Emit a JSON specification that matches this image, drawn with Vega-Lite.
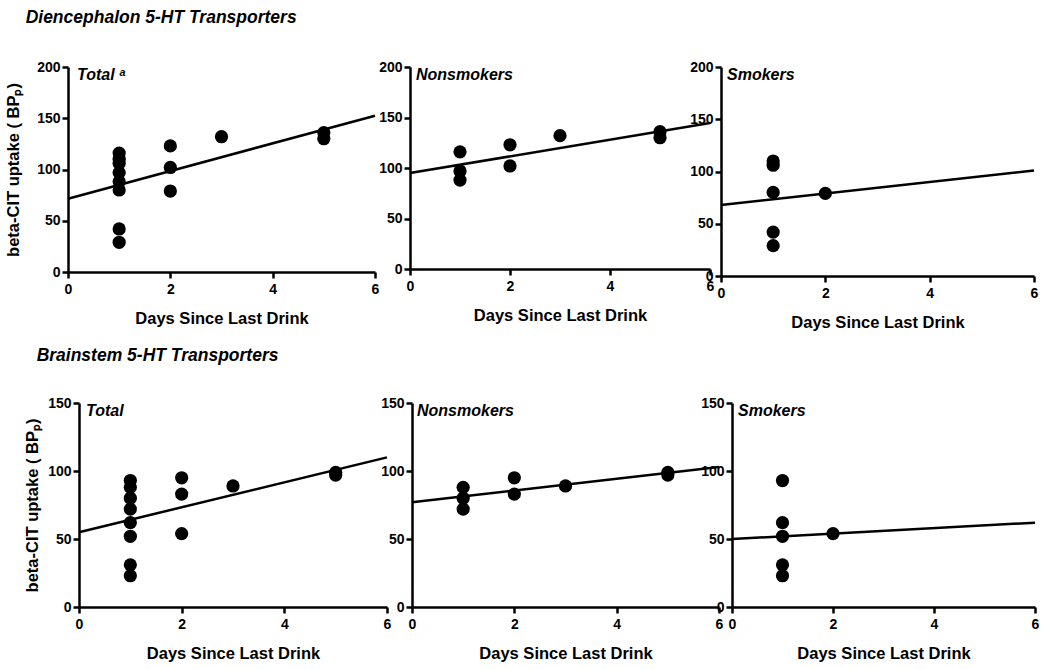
{
  "$schema": "https://vega.github.io/schema/vega-lite/v6.json",
  "background": "white",
  "padding": {"left": 5, "top": 8, "right": 5, "bottom": 5},
  "bounds": "flush",
  "spacing": 336,
  "datasets": {
    "points": [
      {"region": "Diencephalon", "smoking": "Nonsmokers", "days": 1, "uptake": 116},
      {"region": "Diencephalon", "smoking": "Nonsmokers", "days": 1, "uptake": 97},
      {"region": "Diencephalon", "smoking": "Nonsmokers", "days": 1, "uptake": 88},
      {"region": "Diencephalon", "smoking": "Nonsmokers", "days": 2, "uptake": 123},
      {"region": "Diencephalon", "smoking": "Nonsmokers", "days": 2, "uptake": 102},
      {"region": "Diencephalon", "smoking": "Nonsmokers", "days": 3, "uptake": 132},
      {"region": "Diencephalon", "smoking": "Nonsmokers", "days": 5, "uptake": 136},
      {"region": "Diencephalon", "smoking": "Nonsmokers", "days": 5, "uptake": 130},
      {"region": "Diencephalon", "smoking": "Smokers", "days": 1, "uptake": 110},
      {"region": "Diencephalon", "smoking": "Smokers", "days": 1, "uptake": 106},
      {"region": "Diencephalon", "smoking": "Smokers", "days": 1, "uptake": 80},
      {"region": "Diencephalon", "smoking": "Smokers", "days": 1, "uptake": 42},
      {"region": "Diencephalon", "smoking": "Smokers", "days": 1, "uptake": 29},
      {"region": "Diencephalon", "smoking": "Smokers", "days": 2, "uptake": 79},
      {"region": "Brainstem", "smoking": "Nonsmokers", "days": 1, "uptake": 88},
      {"region": "Brainstem", "smoking": "Nonsmokers", "days": 1, "uptake": 80},
      {"region": "Brainstem", "smoking": "Nonsmokers", "days": 1, "uptake": 72},
      {"region": "Brainstem", "smoking": "Nonsmokers", "days": 2, "uptake": 95},
      {"region": "Brainstem", "smoking": "Nonsmokers", "days": 2, "uptake": 83},
      {"region": "Brainstem", "smoking": "Nonsmokers", "days": 3, "uptake": 89},
      {"region": "Brainstem", "smoking": "Nonsmokers", "days": 5, "uptake": 99},
      {"region": "Brainstem", "smoking": "Nonsmokers", "days": 5, "uptake": 97},
      {"region": "Brainstem", "smoking": "Smokers", "days": 1, "uptake": 93},
      {"region": "Brainstem", "smoking": "Smokers", "days": 1, "uptake": 62},
      {"region": "Brainstem", "smoking": "Smokers", "days": 1, "uptake": 52},
      {"region": "Brainstem", "smoking": "Smokers", "days": 1, "uptake": 31},
      {"region": "Brainstem", "smoking": "Smokers", "days": 1, "uptake": 23},
      {"region": "Brainstem", "smoking": "Smokers", "days": 2, "uptake": 54}
    ],
    "fits": [
      {"region": "Diencephalon", "panel": "Total", "days": 0, "uptake": 71.5},
      {"region": "Diencephalon", "panel": "Total", "days": 6, "uptake": 152.5},
      {"region": "Diencephalon", "panel": "Nonsmokers", "days": 0, "uptake": 95},
      {"region": "Diencephalon", "panel": "Nonsmokers", "days": 6, "uptake": 144.5},
      {"region": "Diencephalon", "panel": "Smokers", "days": 0, "uptake": 68},
      {"region": "Diencephalon", "panel": "Smokers", "days": 6, "uptake": 101},
      {"region": "Brainstem", "panel": "Total", "days": 0, "uptake": 55},
      {"region": "Brainstem", "panel": "Total", "days": 6, "uptake": 110},
      {"region": "Brainstem", "panel": "Nonsmokers", "days": 0, "uptake": 77},
      {"region": "Brainstem", "panel": "Nonsmokers", "days": 6, "uptake": 103},
      {"region": "Brainstem", "panel": "Smokers", "days": 0, "uptake": 50},
      {"region": "Brainstem", "panel": "Smokers", "days": 6, "uptake": 62}
    ]
  },
  "config": {
    "view": {"stroke": null},
    "font": "Liberation Sans",
    "axis": {
      "grid": false,
      "domainColor": "black", "domainWidth": 2.5,
      "tickColor": "black", "tickWidth": 2.5, "tickSize": 6,
      "labelFont": "Liberation Sans", "labelFontWeight": "bold", "labelFontSize": 14, "labelColor": "black",
      "titleFont": "Liberation Sans", "titleFontWeight": "bold", "titleFontSize": 16.5, "titleColor": "black"
    },
    "axisX": {"labelPadding": 4, "titlePadding": 14, "labelFlush": false},
    "axisY": {"labelPadding": 2},
    "circle": {"size": 175, "color": "black", "opacity": 1},
    "title": {"font": "Liberation Sans", "fontWeight": "bold", "fontStyle": "italic", "color": "black", "anchor": "start"}
  },
  "vconcat": [
    {
      "title": {"text": "Diencephalon 5-HT Transporters", "fontSize": 17.5, "offset": 34, "dx": 20},
      "bounds": "flush",
      "spacing": 35,
      "hconcat": [
        {
          "width": 307, "height": 205,
          "title": {"text": "Total ᵃ", "fontSize": 16, "frame": "group", "offset": -23, "dx": 9},
          "layer": [
            {"data": {"name": "points"}, "transform": [{"filter": "datum.region === 'Diencephalon'"}],
             "mark": {"type": "circle"},
             "encoding": {
               "x": {"field": "days", "type": "quantitative", "scale": {"domain": [0, 6], "nice": false}, "axis": {"values": [0, 2, 4, 6], "title": "Days Since Last Drink"}},
               "y": {"field": "uptake", "type": "quantitative", "scale": {"domain": [0, 200], "nice": false}, "axis": {"values": [0, 50, 100, 150, 200], "title": "beta-CIT uptake ( BPₚ)", "titlePadding": 15}}
             }},
            {"data": {"name": "fits"}, "transform": [{"filter": "datum.region === 'Diencephalon' && datum.panel === 'Total'"}],
             "mark": {"type": "line", "color": "black", "strokeWidth": 2.5},
             "encoding": {"x": {"field": "days", "type": "quantitative"}, "y": {"field": "uptake", "type": "quantitative"}}}
          ]
        },
        {
          "bounds": "flush",
          "spacing": 11,
          "hconcat": [
            {
              "width": 300, "height": 202,
              "title": {"text": "Nonsmokers", "fontSize": 16, "frame": "group", "offset": -23, "dx": 6},
              "layer": [
                {"data": {"name": "points"}, "transform": [{"filter": "datum.region === 'Diencephalon' && datum.smoking === 'Nonsmokers'"}],
                 "mark": {"type": "circle"},
                 "encoding": {
                   "x": {"field": "days", "type": "quantitative", "scale": {"domain": [0, 6], "nice": false}, "axis": {"values": [0, 2, 4, 6], "title": "Days Since Last Drink"}},
                   "y": {"field": "uptake", "type": "quantitative", "scale": {"domain": [0, 200], "nice": false}, "axis": {"values": [0, 50, 100, 150, 200], "title": null}}
                 }},
                {"data": {"name": "fits"}, "transform": [{"filter": "datum.region === 'Diencephalon' && datum.panel === 'Nonsmokers'"}],
                 "mark": {"type": "line", "color": "black", "strokeWidth": 2.5},
                 "encoding": {"x": {"field": "days", "type": "quantitative"}, "y": {"field": "uptake", "type": "quantitative"}}}
              ]
            },
            {
              "width": 313, "height": 209,
              "title": {"text": "Smokers", "fontSize": 16, "frame": "group", "offset": -23, "dx": 6},
              "layer": [
                {"data": {"name": "points"}, "transform": [{"filter": "datum.region === 'Diencephalon' && datum.smoking === 'Smokers'"}],
                 "mark": {"type": "circle"},
                 "encoding": {
                   "x": {"field": "days", "type": "quantitative", "scale": {"domain": [0, 6], "nice": false}, "axis": {"values": [0, 2, 4, 6], "title": "Days Since Last Drink"}},
                   "y": {"field": "uptake", "type": "quantitative", "scale": {"domain": [0, 200], "nice": false}, "axis": {"values": [0, 50, 100, 150, 200], "title": null}}
                 }},
                {"data": {"name": "fits"}, "transform": [{"filter": "datum.region === 'Diencephalon' && datum.panel === 'Smokers'"}],
                 "mark": {"type": "line", "color": "black", "strokeWidth": 2.5},
                 "encoding": {"x": {"field": "days", "type": "quantitative"}, "y": {"field": "uptake", "type": "quantitative"}}}
              ]
            }
          ]
        }
      ]
    },
    {
      "title": {"text": "Brainstem 5-HT Transporters", "fontSize": 17.5, "offset": 32, "dx": 12},
      "bounds": "flush",
      "spacing": 10,
      "hconcat": [
        {"width": 1, "height": 204, "data": {"values": [{}]}, "mark": {"type": "point", "opacity": 0, "size": 1}, "encoding": {}},
        {
          "bounds": "flush",
          "spacing": 25,
          "hconcat": [
            {
              "width": 308, "height": 204,
              "title": {"text": "Total", "fontSize": 16, "frame": "group", "offset": -23, "dx": 7},
              "layer": [
                {"data": {"name": "points"}, "transform": [{"filter": "datum.region === 'Brainstem'"}],
                 "mark": {"type": "circle"},
                 "encoding": {
                   "x": {"field": "days", "type": "quantitative", "scale": {"domain": [0, 6], "nice": false}, "axis": {"values": [0, 2, 4, 6], "title": "Days Since Last Drink"}},
                   "y": {"field": "uptake", "type": "quantitative", "scale": {"domain": [0, 150], "nice": false}, "axis": {"values": [0, 50, 100, 150], "title": "beta-CIT uptake ( BPₚ)", "titlePadding": 7}}
                 }},
                {"data": {"name": "fits"}, "transform": [{"filter": "datum.region === 'Brainstem' && datum.panel === 'Total'"}],
                 "mark": {"type": "line", "color": "black", "strokeWidth": 2.5},
                 "encoding": {"x": {"field": "days", "type": "quantitative"}, "y": {"field": "uptake", "type": "quantitative"}}}
              ]
            },
            {
              "bounds": "flush",
              "spacing": 13,
              "hconcat": [
                {
                  "width": 307, "height": 204,
                  "title": {"text": "Nonsmokers", "fontSize": 16, "frame": "group", "offset": -23, "dx": 5},
                  "layer": [
                    {"data": {"name": "points"}, "transform": [{"filter": "datum.region === 'Brainstem' && datum.smoking === 'Nonsmokers'"}],
                     "mark": {"type": "circle"},
                     "encoding": {
                       "x": {"field": "days", "type": "quantitative", "scale": {"domain": [0, 6], "nice": false}, "axis": {"values": [0, 2, 4, 6], "title": "Days Since Last Drink"}},
                       "y": {"field": "uptake", "type": "quantitative", "scale": {"domain": [0, 150], "nice": false}, "axis": {"values": [0, 50, 100, 150], "title": null}}
                     }},
                    {"data": {"name": "fits"}, "transform": [{"filter": "datum.region === 'Brainstem' && datum.panel === 'Nonsmokers'"}],
                     "mark": {"type": "line", "color": "black", "strokeWidth": 2.5},
                     "encoding": {"x": {"field": "days", "type": "quantitative"}, "y": {"field": "uptake", "type": "quantitative"}}}
                  ]
                },
                {
                  "width": 303, "height": 204,
                  "title": {"text": "Smokers", "fontSize": 16, "frame": "group", "offset": -23, "dx": 6},
                  "layer": [
                    {"data": {"name": "points"}, "transform": [{"filter": "datum.region === 'Brainstem' && datum.smoking === 'Smokers'"}],
                     "mark": {"type": "circle"},
                     "encoding": {
                       "x": {"field": "days", "type": "quantitative", "scale": {"domain": [0, 6], "nice": false}, "axis": {"values": [0, 2, 4, 6], "title": "Days Since Last Drink"}},
                       "y": {"field": "uptake", "type": "quantitative", "scale": {"domain": [0, 150], "nice": false}, "axis": {"values": [0, 50, 100, 150], "title": null}}
                     }},
                    {"data": {"name": "fits"}, "transform": [{"filter": "datum.region === 'Brainstem' && datum.panel === 'Smokers'"}],
                     "mark": {"type": "line", "color": "black", "strokeWidth": 2.5},
                     "encoding": {"x": {"field": "days", "type": "quantitative"}, "y": {"field": "uptake", "type": "quantitative"}}}
                  ]
                }
              ]
            }
          ]
        }
      ]
    }
  ]
}
